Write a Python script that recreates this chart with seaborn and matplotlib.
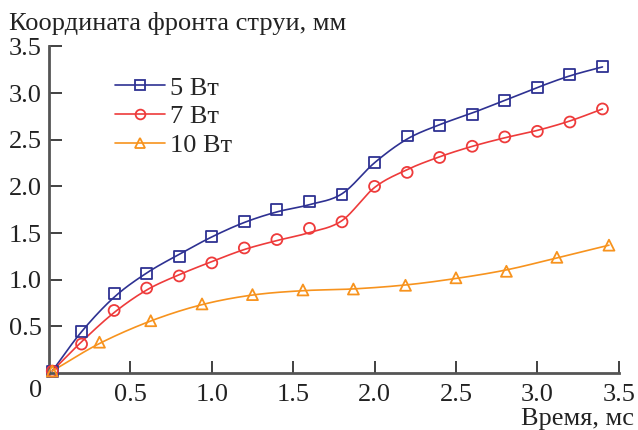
import numpy as np
import pandas as pd
import matplotlib
matplotlib.use("Agg")
import matplotlib.pyplot as plt
import seaborn as sns
from matplotlib.lines import Line2D

# data
t_5w = [0.02, 0.2, 0.4, 0.6, 0.8, 1.0, 1.2, 1.4, 1.6, 1.8, 2.0, 2.2, 2.4, 2.6, 2.8, 3.0, 3.2, 3.4]
x_5w = [0.02, 0.44, 0.85, 1.07, 1.25, 1.46, 1.62, 1.75, 1.84, 1.91, 2.26, 2.54, 2.65, 2.77, 2.92, 3.06, 3.20, 3.28]

t_7w = [0.02, 0.2, 0.4, 0.6, 0.8, 1.0, 1.2, 1.4, 1.6, 1.8, 2.0, 2.2, 2.4, 2.6, 2.8, 3.0, 3.2, 3.4]
x_7w = [0.02, 0.31, 0.67, 0.91, 1.04, 1.18, 1.34, 1.43, 1.55, 1.62, 2.00, 2.15, 2.31, 2.43, 2.53, 2.59, 2.69, 2.83]

t_10w = [0.02, 0.31, 0.625, 0.94, 1.25, 1.56, 1.87, 2.19, 2.5, 2.81, 3.12, 3.44]
x_10w = [0.02, 0.33, 0.56, 0.74, 0.84, 0.89, 0.90, 0.94, 1.02, 1.09, 1.24, 1.37]

labels = ["5 Вт", "7 Вт", "10 Вт"]
colors = ["#2E3192", "#EE3B3B", "#F7931E"]
markers = ["s", "o", "^"]


def smooth(x, y, lam=0.35, n=24):
    # Whittaker smoothing, then a Catmull-Rom curve, only for drawing the line
    x = np.asarray(x, float)
    y = np.asarray(y, float)
    m = len(y)
    D = np.diff(np.eye(m), 2, axis=0)
    w = np.ones(m)
    w[0] = w[-1] = 20.0
    # keep the curve close to the points around the jump near 1.8-2.0 ms
    w[(x > 1.7) & (x < 2.1)] = 15.0
    z = np.linalg.solve(np.diag(w) + lam * D.T @ D, w * y)
    px = np.concatenate([[2 * x[0] - x[1]], x, [2 * x[-1] - x[-2]]])
    py = np.concatenate([[2 * z[0] - z[1]], z, [2 * z[-1] - z[-2]]])
    xs, ys = [], []
    s = np.linspace(0, 1, n, endpoint=False)
    for i in range(1, len(px) - 2):
        for p, out in ((px, xs), (py, ys)):
            p0, p1, p2, p3 = p[i - 1], p[i], p[i + 1], p[i + 2]
            out.extend(0.5 * (2 * p1 + (-p0 + p2) * s + (2 * p0 - 5 * p1 + 4 * p2 - p3) * s ** 2
                              + (-p0 + 3 * p1 - 3 * p2 + p3) * s ** 3))
    xs.append(x[-1])
    ys.append(z[-1])
    return np.array(xs), np.array(ys)


sns.set_style("ticks")
plt.rcParams['font.family'] = ['Liberation Serif', 'DejaVu Serif']

fig = plt.figure(figsize=(6.38, 4.30), dpi=100)
ax = fig.add_axes([0.0768, 0.1326, 0.893, 0.7594])

series = [(t_5w, x_5w), (t_7w, x_7w), (t_10w, x_10w)]
handles = []
for (t, x), lab, c, m in zip(series, labels, colors, markers):
    sx, sy = smooth(t, x)
    ax.plot(sx, sy, color=c, lw=1.2, clip_on=False, zorder=2)
    df = pd.DataFrame({"t": t, "x": x})
    sns.scatterplot(data=df, x="t", y="x", ax=ax, marker=m, s=62,
                    facecolor="none", edgecolor=c, linewidth=1.3,
                    clip_on=False, zorder=3, legend=False)
    handles.append(Line2D([], [], color=c, lw=1.2, marker=m, markersize=7,
                          markerfacecolor="none", markeredgecolor=c, markeredgewidth=1.3))

ax.set_xlim(0, 3.5)
ax.set_ylim(0, 3.5)
ax.set_xlabel("")
ax.set_ylabel("")
sns.despine(ax=ax)
for sp in ["left", "bottom"]:
    ax.spines[sp].set_linewidth(2)
    ax.spines[sp].set_color("#555555")

ax.set_xticks([0.5, 1.0, 1.5, 2.0, 2.5, 3.0, 3.5])
ax.set_xticklabels(["0.5", "1.0", "1.5", "2.0", "2.5", "3.0", "3.5"])
ax.set_yticks([0.5, 1.0, 1.5, 2.0, 2.5, 3.0, 3.5])
ax.set_yticklabels(["0.5", "1.0", "1.5", "2.0", "2.5", "3.0", "3.5"])
ax.tick_params(direction="in", length=9, width=1.3, color="#333333",
               labelsize=19, labelcolor="#222222", pad=5)
ax.tick_params(axis="x", pad=8)
ax.text(-0.04, -0.08, "0", fontsize=19, color="#222222", ha="right", va="top")

leg = ax.legend(handles, labels, loc="upper left", bbox_to_anchor=(0.097, 0.941),
                frameon=False, fontsize=19, handlelength=1.9, handletextpad=0.19,
                labelspacing=0.2, borderaxespad=0)

fig.text(0.014, 0.930, "Координата фронта струи, мм", fontsize=19, color="#222222",
         ha="left", va="baseline")
fig.text(0.993, 0.0116, "Время, мс", fontsize=19, color="#222222",
         ha="right", va="baseline")

fig.savefig("out.png", dpi=100)
